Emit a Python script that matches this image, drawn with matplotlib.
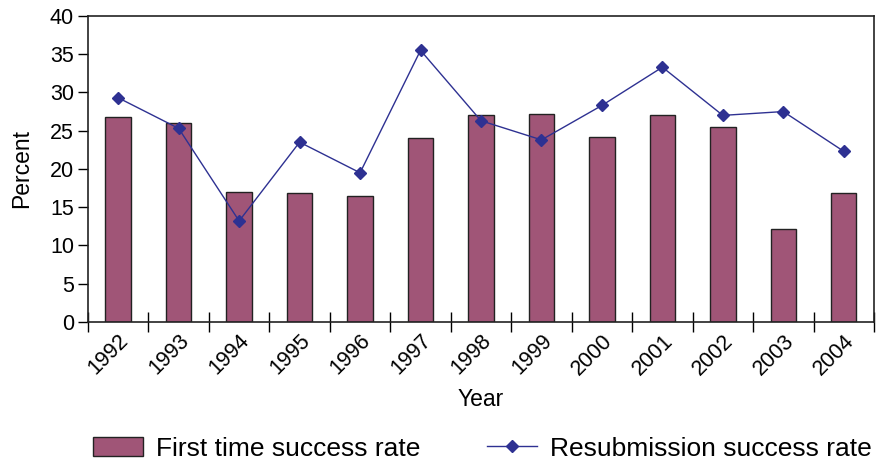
import matplotlib.pyplot as plt
import numpy as np

plt.rcParams['font.family'] = ['Liberation Sans', 'DejaVu Sans']

years = ['1992', '1993', '1994', '1995', '1996', '1997', '1998',
         '1999', '2000', '2001', '2002', '2003', '2004']
first_time = [26.8, 26.0, 17.0, 16.8, 16.5, 24.0, 27.0, 27.2, 24.2, 27.0, 25.5, 12.2, 16.8]
resubmission = [29.3, 25.3, 13.2, 23.5, 19.5, 35.5, 26.3, 23.8, 28.3, 33.3, 27.0, 27.5, 22.3]

bar_color = '#A05577'
line_color = '#2E3192'

fig = plt.figure(figsize=(8.77, 4.68), dpi=100)
ax = fig.add_axes([0.1003, 0.312, 0.8963, 0.654])

x = np.arange(len(years))
bars = ax.bar(x, first_time, width=0.42, color=bar_color, edgecolor='#222222',
              linewidth=1.0, label='First time success rate', zorder=2)
line, = ax.plot(x, resubmission, color=line_color, linewidth=1.0, marker='D',
                markersize=6.5, label='Resubmission success rate', zorder=3)

ax.set_xlim(-0.5, len(years) - 0.5)
ax.set_ylim(0, 40)
ax.set_yticks(range(0, 41, 5))
ax.tick_params(axis='y', direction='out', length=7, width=1, labelsize=15.5, pad=3)

ax.set_xticks(x)
ax.set_xticklabels(years, rotation=45, ha='right', rotation_mode='anchor', fontsize=15.5)
ax.tick_params(axis='x', which='major', length=0, pad=6)
ax.set_xticks(np.arange(-0.5, len(years)), minor=True)
ax.tick_params(axis='x', which='minor', direction='inout', length=14, width=1)

for s in ax.spines.values():
    s.set_linewidth(1.2)
    s.set_color('#222222')

ax.set_xlabel('Year', fontsize=16.5, labelpad=6)
ax.set_ylabel('Percent', fontsize=16.5, labelpad=12)

fig.legend([bars, line], ['First time success rate', 'Resubmission success rate'],
           loc='lower center', bbox_to_anchor=(0.55, -0.035), ncol=2, frameon=False,
           fontsize=19, handlelength=1.9, columnspacing=2.5, handletextpad=0.5)

fig.savefig('out.png', dpi=100)
